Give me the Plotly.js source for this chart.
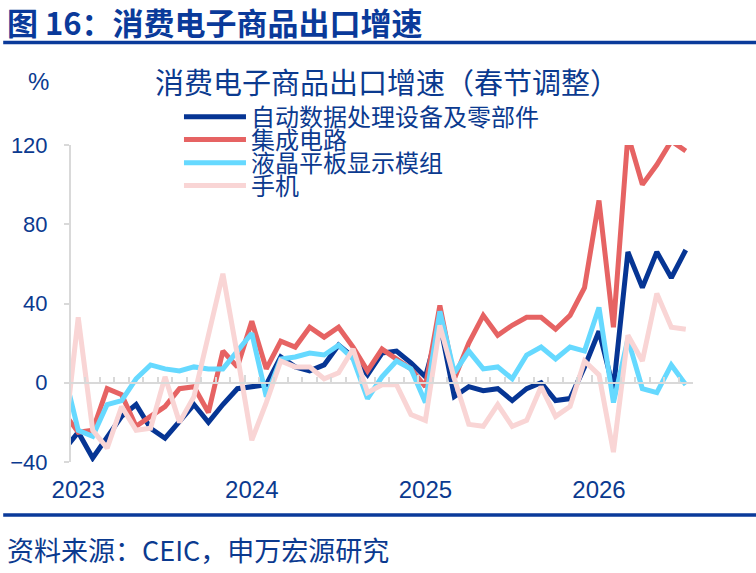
<!DOCTYPE html>
<html>
<head>
<meta charset="utf-8">
<script src="https://cdn.plot.ly/plotly-3.0.1.min.js"></script>
<style>
html, body { margin: 0; padding: 0; background: #fff; }
#chart { width: 756px; height: 573px; }
</style>
</head>
<body>
<div id="chart"></div>
<script>
// months, Dec 2022 .. Jul 2026
const months = [
  '2022-12',
  '2023-01','2023-02','2023-03','2023-04','2023-05','2023-06','2023-07','2023-08','2023-09','2023-10','2023-11','2023-12',
  '2024-01','2024-02','2024-03','2024-04','2024-05','2024-06','2024-07','2024-08','2024-09','2024-10','2024-11','2024-12',
  '2025-01','2025-02','2025-03','2025-04','2025-05','2025-06','2025-07','2025-08','2025-09','2025-10','2025-11','2025-12',
  '2026-01','2026-02','2026-03','2026-04','2026-05','2026-06','2026-07'
]

const yearLabels = ['2023','2024','2025','2026']

// % yoy
const dataProc = [-34,-25,-38,-27,-17,-11,-23,-28,-19,-11,-20,-11,-3,-2,-1,13,8,6,9,19,13,4,15,16,10,3,30,-7,-2,-4,-3,-9,-3,0,-9,-8,8,26,-3,66,48,66,53,67]
const chips = [-15,-25,-24,-3,-6,-22,-17,-12,-3,-2,-15,16,8,31,7,21,18,28,23,28,18,6,17,12,7,-2,39,2,20,34,24,29,33,33,27,34,48,92,28,125,100,110,122,117]
const lcd = [6,-24,-27,-11,-9,2,9,7,6,8,7,7,16,25,-7,12,13,15,14,19,12,-8,3,11,7,-10,36,5,16,7,8,2,14,18,12,18,16,38,-10,22,-3,-5,9,-1]
const phones = [-32,33,-24,-33,-12,-24,-23,3,-20,-7,24,55,14,-29,-10,11,8,8,2,5,17,-5,-1,-1,-16,-19,29,2,-21,-22,-11,-22,-19,-2,-17,-12,11,4,-35,24,11,45,28,27]

const names = ['自动数据处理设备及零部件','集成电路','液晶平板显示模组','手机']
const colors = ['#063594','#E66363','#66D9FF','#F9D5D5']

// month offset from Jan 2023
let xIdx = months.map((m, i) => i - 1)
let yearTicks = yearLabels.map(y => months.indexOf(y + '-01') - 1)
let yearEdges = yearTicks.map(v => v - 0.5)

const blue = '#0B3A8F'
const gray = '#D9D9D9'
const latin = 'Liberation Sans, Noto Sans CJK SC, sans-serif'
const cjk = 'Noto Sans CJK SC, Liberation Sans, sans-serif'

let series = [dataProc, chips, lcd, phones]
let legendIds = ['legend','legend2','legend3','legend4']
let legendY = [1.088, 1.016, 0.943, 0.871]

// first two on the main x axis, last two on the overlay (drawn on top, like the original)
let traces = series.map((s, i) => ({
  x: xIdx,
  y: s,
  name: names[i],
  type: 'scatter',
  mode: 'lines',
  line: {color: colors[i], width: 5},
  xaxis: i < 2 ? 'x' : 'x2',
  legend: legendIds[i],
  text: months,
  hovertemplate: '%{text}: %{y}%<extra>' + names[i] + '</extra>'
}))

let layout = {
  width: 756,
  height: 573,
  margin: {l: 71, r: 63, t: 145, b: 111},
  paper_bgcolor: '#fff',
  plot_bgcolor: '#fff',
  font: {family: latin, color: blue, size: 22},
  title: {
    text: '消费电子商品出口增速（春节调整）',
    font: {family: cjk, size: 29, color: blue},
    xref: 'container', yref: 'container',
    x: 0.205, xanchor: 'left',
    y: 0.853, yanchor: 'middle'
  },
  xaxis: {
    range: [-0.5, 42.5],
    tickmode: 'array',
    tickvals: yearTicks,
    ticktext: yearLabels,
    ticks: '',
    showline: false,
    showgrid: false,
    zeroline: false,
    ticklabelstandoff: 11,
    tickfont: {family: latin, size: 24, color: blue},
    fixedrange: true
  },
  xaxis2: {
    overlaying: 'x',
    anchor: 'free',
    position: 0.25,
    range: [-0.5, 42.5],
    showline: true,
    linecolor: gray,
    linewidth: 2,
    showgrid: false,
    zeroline: false,
    showticklabels: false,
    tickmode: 'array',
    tickvals: yearEdges,
    ticks: 'inside',
    ticklen: 7,
    tickwidth: 2,
    tickcolor: gray,
    minor: {tickmode: 'linear', tick0: -0.5, dtick: 1, ticks: 'inside', ticklen: 5, tickwidth: 2, tickcolor: gray},
    fixedrange: true
  },
  yaxis: {
    range: [-40, 120],
    tickvals: [-40, 0, 40, 80, 120],
    showline: true,
    linecolor: gray,
    linewidth: 2,
    ticks: 'outside',
    ticklen: 5,
    tickwidth: 2,
    tickcolor: gray,
    showgrid: false,
    zeroline: false,
    ticklabelstandoff: 12,
    tickfont: {family: latin, size: 22, color: blue},
    fixedrange: true
  },
  shapes: [
    {type: 'line', xref: 'paper', yref: 'paper', x0: -0.109, x1: 1.11, y0: 1.3233, y1: 1.3233, line: {color: '#0A3A9A', width: 3.5}},
    {type: 'line', xref: 'paper', yref: 'paper', x0: -0.109, x1: 1.11, y0: -0.1672, y1: -0.1672, line: {color: '#0A3A9A', width: 3.5}}
  ],
  annotations: [
    {text: '<b>图 16：消费电子商品出口增速</b>', xref: 'paper', yref: 'paper', x: -0.106, y: 1.391,
     xanchor: 'left', yanchor: 'middle', showarrow: false, font: {family: cjk, size: 31, color: '#0A3A9A'}},
    {text: '%', xref: 'paper', yref: 'paper', x: -0.053, y: 1.199,
     xanchor: 'center', yanchor: 'middle', showarrow: false, font: {family: latin, size: 24, color: blue}},
    {text: '资料来源：CEIC，申万宏源研究', xref: 'paper', yref: 'paper', x: -0.106, y: -0.2776,
     xanchor: 'left', yanchor: 'middle', showarrow: false, font: {family: cjk, size: 27, color: blue}}
  ],
  showlegend: true
}

legendIds.forEach((id, i) => {
  layout[id] = {
    x: 0.1736, y: legendY[i],
    xanchor: 'left', yanchor: 'middle',
    itemwidth: 62,
    bgcolor: 'rgba(0,0,0,0)',
    borderwidth: 0,
    font: {family: cjk, size: 24, color: blue}
  }
})

Plotly.newPlot('chart', traces, layout, {displayModeBar: false, responsive: false})
</script>
</body>
</html>
